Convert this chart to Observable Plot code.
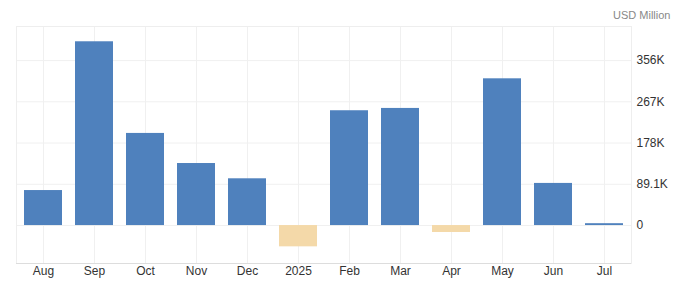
<!DOCTYPE html>
<html><head><meta charset="utf-8">
<script src="https://cdn.jsdelivr.net/npm/d3@7"></script>
<script src="https://cdn.jsdelivr.net/npm/@observablehq/plot@0.6"></script>
<style>body{margin:0;background:#fff;} svg{display:block;}</style>
</head><body><div id="chart"></div>
<script>
const months = ["Aug","Sep","Oct","Nov","Dec","2025","Feb","Mar","Apr","May","Jun","Jul"];
const values = [75600, 397000, 199000, 134000, 101000, -46000, 248000, 253000, -15000, 317000, 91000, 4000];
const yTicks = [0, 89100, 178200, 267300, 356400];
const yTickLabels = ["0", "89.1K", "178K", "267K", "356K"];
const unitLabel = "USD Million";

const data = months.map((m, i) => ({month: m, value: values[i]}));

const chart = Plot.plot({
  width: 677, height: 290,
  marginLeft: 16, marginRight: 46, marginTop: 26, marginBottom: 27,
  style: {fontFamily: "Liberation Sans, Arial, sans-serif", fontSize: "12px", color: "#333", background: "#fff"},
  x: {type: "band", domain: months, paddingInner: 0.26, paddingOuter: 0.13, label: null},
  y: {domain: [-82000, 430000], label: null},
  marks: [
    Plot.ruleY(yTicks, {y: d => d, stroke: "#f0f0f0", strokeWidth: 1}),
    Plot.ruleX(months, {x: d => d, stroke: "#f0f0f0", strokeWidth: 1}),
    Plot.frame({stroke: "#eeeeee"}),
    Plot.ruleY([-82000], {stroke: "#dddddd"}),
    Plot.barY(data, {x: "month", y: "value", fill: d => d.value < 0 ? "#f4d9a9" : "#4f81bd"}),
    Plot.axisY(yTicks, {anchor: "right", tickSize: 0, tickPadding: 5, tickFormat: (d) => yTickLabels[yTicks.indexOf(d)], fontSize: 12, fill: "#333"}),
    Plot.axisX({anchor: "bottom", tickSize: 0, tickPadding: 3, fontSize: 12, fill: "#333"}),
    Plot.text([unitLabel], {frameAnchor: "top-right", text: d => d, dx: 39, dy: -15, fill: "#888", fontSize: 11, textAnchor: "end"})
  ]
});
document.getElementById("chart").appendChild(chart);
</script></body></html>
